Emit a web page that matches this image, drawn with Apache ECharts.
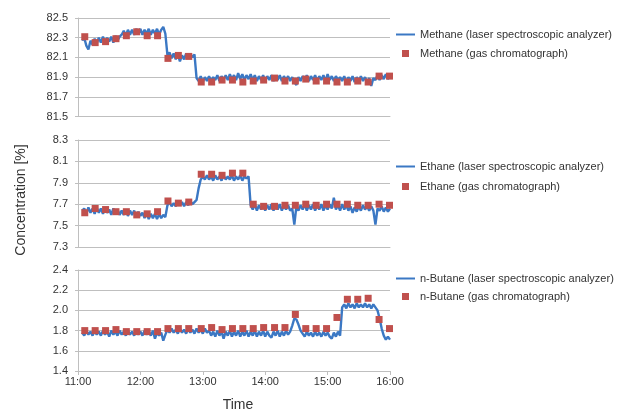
<!DOCTYPE html>
<html>
<head>
<meta charset="utf-8">
<script src="https://cdn.jsdelivr.net/npm/echarts@6/dist/echarts.min.js"></script>
<style>html,body{margin:0;padding:0;background:#fff}#c{width:617px;height:412px}</style>
</head>
<body>
<div id="c"></div>
<script>
// minutes after 11:00
const tickLabels = ['11:00','12:00','13:00','14:00','15:00','16:00'];
const lineTimes = [
 4,6,8,10,12,14,16,18,20,22,
 24,26,28,30,32,34,36,38,40,42,
 44,46,48,50,52,54,56,58,60,62,
 64,66,68,70,72,74,76,78,80,82,
 84,86,88,90,92,94,96,98,100,102,
 104,106,108,110,112,114,116,118,120,122,
 124,126,128,130,132,134,136,138,140,142,
 144,146,148,150,152,154,156,158,160,162,
 164,166,168,170,172,174,176,178,180,182,
 184,186,188,190,192,194,196,198,200,202,
 204,206,208,210,212,214,216,218,220,222,
 224,226,228,230,232,234,236,238,240,242,
 244,246,248,250,252,254,256,258,260,262,
 264,266,268,270,272,274,276,278,280,282,
 284,286,288,290,292,294,296,298,300
];
const methaneLaser = [
 82.27,82.30,82.22,82.18,82.27,82.23,82.29,82.24,82.30,82.25,
 82.31,82.25,82.30,82.26,82.31,82.25,82.32,82.27,82.31,82.33,
 82.37,82.32,82.38,82.33,82.38,82.33,82.39,82.34,82.39,82.33,
 82.38,82.34,82.39,82.33,82.38,82.34,82.39,82.33,82.38,82.41,
 82.34,82.12,82.15,82.09,82.14,82.08,82.13,82.06,82.12,82.08,
 82.14,82.09,82.14,82.10,82.13,81.89,81.86,81.91,81.85,81.90,
 81.86,81.91,81.86,81.90,81.87,81.92,81.86,81.91,81.87,81.92,
 81.87,81.93,81.88,81.92,81.87,81.94,81.88,81.93,81.87,81.92,
 81.88,81.93,81.87,81.92,81.86,81.91,81.87,81.92,81.86,81.91,
 81.87,81.92,81.86,81.91,81.87,81.92,81.86,81.91,81.87,81.91,
 81.86,81.90,81.85,81.82,81.90,81.86,81.91,81.87,81.92,81.86,
 81.91,81.87,81.92,81.86,81.91,81.87,81.92,81.86,81.93,81.87,
 81.91,81.86,81.91,81.87,81.90,81.86,81.91,81.85,81.90,81.86,
 81.91,81.85,81.90,81.86,81.91,81.86,81.90,81.85,81.89,81.81,
 81.89,81.87,81.92,81.87,81.92,81.88,81.93,81.88,81.92
];
const ethaneLaser = [
 7.64,7.66,7.61,7.67,7.62,7.66,7.61,7.67,7.62,7.66,
 7.61,7.66,7.62,7.65,7.60,7.66,7.61,7.65,7.60,7.64,
 7.60,7.65,7.59,7.64,7.60,7.64,7.58,7.63,7.59,7.62,
 7.57,7.62,7.56,7.61,7.57,7.61,7.56,7.61,7.57,7.60,
 7.58,7.69,7.72,7.68,7.71,7.68,7.72,7.69,7.72,7.68,
 7.72,7.69,7.73,7.70,7.72,7.74,7.85,7.93,7.96,7.93,
 7.97,7.93,7.96,7.92,7.97,7.93,7.96,7.92,7.97,7.93,
 7.96,7.93,7.97,7.92,7.96,7.93,7.97,7.92,7.96,7.94,
 7.96,7.69,7.65,7.70,7.64,7.69,7.65,7.70,7.64,7.69,
 7.65,7.70,7.64,7.69,7.65,7.70,7.64,7.69,7.65,7.69,
 7.64,7.66,7.51,7.68,7.64,7.69,7.65,7.70,7.64,7.69,
 7.65,7.70,7.64,7.69,7.65,7.70,7.64,7.69,7.65,7.70,
 7.66,7.76,7.65,7.69,7.64,7.70,7.65,7.69,7.64,7.68,
 7.62,7.67,7.63,7.68,7.64,7.69,7.65,7.68,7.64,7.68,
 7.64,7.51,7.66,7.64,7.68,7.63,7.67,7.63,7.66
];
const butaneLaser = [
 1.78,1.75,1.80,1.76,1.79,1.75,1.80,1.76,1.79,1.75,
 1.80,1.76,1.79,1.74,1.80,1.76,1.79,1.75,1.80,1.76,
 1.79,1.75,1.80,1.76,1.79,1.75,1.80,1.76,1.79,1.75,
 1.80,1.76,1.79,1.75,1.80,1.72,1.78,1.75,1.78,1.70,
 1.76,1.81,1.78,1.82,1.78,1.81,1.77,1.82,1.78,1.81,
 1.77,1.82,1.78,1.81,1.77,1.82,1.78,1.81,1.77,1.82,
 1.78,1.80,1.75,1.79,1.74,1.80,1.75,1.79,1.72,1.79,
 1.75,1.80,1.74,1.79,1.75,1.80,1.74,1.79,1.75,1.80,
 1.74,1.79,1.75,1.80,1.74,1.79,1.75,1.80,1.74,1.79,
 1.75,1.73,1.79,1.75,1.80,1.74,1.79,1.75,1.80,1.76,
 1.79,1.85,1.92,1.91,1.86,1.80,1.77,1.74,1.79,1.75,
 1.78,1.74,1.79,1.75,1.78,1.74,1.79,1.75,1.78,1.74,
 1.72,1.78,1.74,1.79,1.75,2.03,2.06,2.02,2.07,2.03,
 2.06,2.02,2.07,2.03,2.06,2.03,2.07,2.03,2.06,2.02,
 2.06,2.03,2.00,1.92,1.82,1.75,1.71,1.74,1.71
];
const gcTimes = [6.5,16.5,26.5,36.5,46.5,56.5,66.5,76.5,86.5,96.5,106.5,118.5,128.5,138.5,148.5,158.5,168.5,178.5,189,199,209,219,229,239,249,259,269,279,289.5,299.5];
const methaneGC = [82.31,82.25,82.26,82.29,82.32,82.36,82.32,82.32,82.09,82.12,82.11,81.85,81.85,81.87,81.87,81.85,81.86,81.87,81.89,81.86,81.86,81.88,81.86,81.86,81.85,81.85,81.86,81.85,81.91,81.91];
const ethaneGC = [7.62,7.66,7.65,7.63,7.63,7.60,7.61,7.63,7.73,7.71,7.72,7.98,7.98,7.97,7.99,7.99,7.70,7.68,7.68,7.69,7.69,7.70,7.69,7.70,7.70,7.70,7.69,7.69,7.70,7.69];
const butaneGC = [1.80,1.80,1.80,1.81,1.79,1.79,1.79,1.79,1.82,1.82,1.82,1.82,1.83,1.81,1.82,1.82,1.82,1.83,1.83,1.83,1.96,1.82,1.82,1.82,1.93,2.11,2.11,2.12,1.91,1.82];

const panels = [
  {gas:'Methane', laser:methaneLaser, gc:methaneGC, min:81.5, max:82.5, top:18, height:98.5, lg:[35,54]},
  {gas:'Ethane', laser:ethaneLaser, gc:ethaneGC, min:7.3, max:8.3, top:140, height:107, lg:[167,187]},
  {gas:'n-Butane', laser:butaneLaser, gc:butaneGC, min:1.4, max:2.4, top:270, height:101, lg:[279,297]}
];

const FONT = "'Liberation Sans', Arial, sans-serif";
const GRID = '#bfbfbf';
const BLUE = '#3b78c4';
const RED = '#c0504d';
const TXT = '#333333';
// icons span the full 19x7 legend box (invisible corner points keep the box size)
const LINE_ICON = 'path://M0,0L0,0M19,7L19,7M0,2.5L19,2.5L19,4.5L0,4.5Z';
const SQUARE_ICON = 'path://M0,0L0,0M19,7L19,7M6,0L13,0L13,7L6,7Z';

const grid = [], xAxis = [], yAxis = [], series = [], legend = [];
panels.forEach((p, i) => {
  const last = i === panels.length - 1;
  grid.push({left:78, right:227, top:p.top, height:p.height});
  xAxis.push({
    type:'value', gridIndex:i, min:0, max:300, interval:60,
    axisLine:{show:true, lineStyle:{color:GRID}},
    axisTick:{show:last, length:4, lineStyle:{color:GRID}},
    splitLine:{show:false},
    axisLabel:{show:last, margin:5, color:TXT, fontSize:11, fontFamily:FONT,
      formatter:v => tickLabels[Math.round(v/60)]}
  });
  yAxis.push({
    type:'value', gridIndex:i, min:p.min, max:p.max, interval:0.2,
    axisLine:{show:true, lineStyle:{color:GRID}},
    axisTick:{show:true, length:3, lineStyle:{color:GRID}},
    splitLine:{show:true, lineStyle:{color:GRID, width:1}},
    axisLabel:{margin:10, color:TXT, fontSize:11, fontFamily:FONT, formatter:v => v.toFixed(1)}
  });
  const nL = p.gas + ' (laser spectroscopic analyzer)';
  const nG = p.gas + ' (gas chromatograph)';
  series.push({
    name:nL, type:'line', xAxisIndex:i, yAxisIndex:i, symbol:'none',
    lineStyle:{color:BLUE, width:2.4}, itemStyle:{color:BLUE},
    data: lineTimes.map((t, k) => [t, p.laser[k]]), z:2
  });
  series.push({
    name:nG, type:'scatter', xAxisIndex:i, yAxisIndex:i, symbol:'rect', symbolSize:7,
    itemStyle:{color:RED, opacity:1}, data: gcTimes.map((t, k) => [t, p.gc[k]]), z:3
  });
  [[nL, LINE_ICON, BLUE], [nG, SQUARE_ICON, RED]].forEach((d, j) => {
    legend.push({
      data:[{name:d[0], icon:d[1], itemStyle:{color:d[2], opacity:1, borderWidth:0}}],
      left:396, top:p.lg[j] - 6, padding:0, orient:'vertical',
      itemWidth:19, itemHeight:7, selectedMode:false, symbolKeepAspect:true,
      textStyle:{fontSize:11, color:TXT, fontFamily:FONT}
    });
  });
});

const chart = echarts.init(document.getElementById('c'), null, {renderer:'canvas'});
chart.setOption({
  animation:false,
  backgroundColor:'#fff',
  grid, xAxis, yAxis, series, legend,
  graphic:[
    {type:'text', x:238, y:405, style:{text:'Time', font:'14px ' + FONT, fill:TXT, align:'center', verticalAlign:'middle'}},
    {type:'text', x:21, y:200, rotation:Math.PI/2, style:{text:'Concentration [%]', font:'14px ' + FONT, fill:TXT, align:'center', verticalAlign:'middle'}}
  ]
});
</script>
</body>
</html>
